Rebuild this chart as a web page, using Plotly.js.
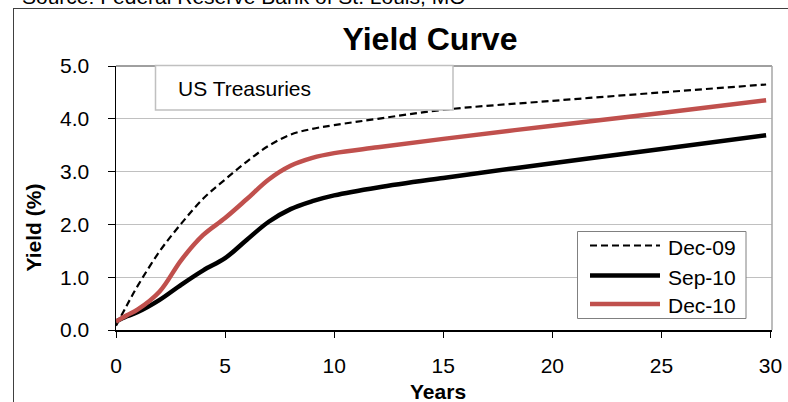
<!DOCTYPE html>
<html>
<head>
<meta charset="utf-8">
<script src="https://cdn.plot.ly/plotly-3.0.1.min.js"></script>
<style>
  html, body { margin: 0; padding: 0; background: #fff; }
  #chart { width: 788px; height: 402px; }
</style>
</head>
<body>
<div id="chart"></div>
<script>
// Treasury yield curves: maturity in years vs. yield in percent
const maturities = [0, 0.5, 1, 2, 3, 4, 5, 6, 7, 8, 9, 10, 12, 15, 20, 25, 29.8];
const yieldsDec09 = [0.08, 0.47, 0.84, 1.49, 2.02, 2.49, 2.85, 3.19, 3.49, 3.70, 3.81, 3.88, 4.00, 4.17, 4.34, 4.50, 4.65];
const yieldsSep10 = [0.16, 0.26, 0.34, 0.57, 0.86, 1.13, 1.36, 1.71, 2.05, 2.29, 2.44, 2.55, 2.70, 2.88, 3.16, 3.43, 3.69];
const yieldsDec10 = [0.16, 0.28, 0.39, 0.73, 1.33, 1.80, 2.12, 2.48, 2.85, 3.11, 3.26, 3.35, 3.46, 3.62, 3.87, 4.11, 4.35];

const seriesNames = ['Dec-09', 'Sep-10', 'Dec-10'];
const yTickVals = [0, 1, 2, 3, 4, 5];
const xTickVals = [0, 5, 10, 15, 20, 25, 30];

const FONT = 'Liberation Sans, Arial, Helvetica, sans-serif';
const RED = '#C0504D';

// plot area geometry (pixels) used to place decorations in paper units
const M = { l: 116, r: 16, t: 66, b: 72 };
const PW = 788 - M.l - M.r;
const PH = 402 - M.t - M.b;
const px = x => (x - M.l) / PW;
const py = y => (402 - M.b - y) / PH;

const styles = [
  { color: '#000', width: 2.2, dash: '7px,4px' },
  { color: '#000', width: 4.5, dash: 'solid' },
  { color: RED, width: 4.5, dash: 'solid' }
];
const seriesY = [yieldsDec09, yieldsSep10, yieldsDec10];

const traces = seriesY.map((ys, i) => ({
  type: 'scatter',
  mode: 'lines',
  name: seriesNames[i],
  x: maturities,
  y: ys,
  line: { color: styles[i].color, width: styles[i].width, dash: styles[i].dash, shape: 'spline', smoothing: 1 },
  hoverinfo: 'x+y+name',
  showlegend: false
}));

const shapes = [
  // outer frame (top and left edges)
  { type: 'line', xref: 'paper', yref: 'paper', x0: px(13), x1: px(800), y0: py(8.5), y1: py(8.5),
    line: { color: '#404040', width: 1 } },
  { type: 'line', xref: 'paper', yref: 'paper', x0: px(13.5), x1: px(13.5), y0: py(8), y1: py(410),
    line: { color: '#404040', width: 1 } },
  // plot area border: top and right
  { type: 'line', xref: 'paper', yref: 'paper', x0: 0, x1: 1, y0: 1, y1: 1,
    line: { color: '#404040', width: 1 } },
  { type: 'line', xref: 'paper', yref: 'paper', x0: 1, x1: 1, y0: 0, y1: 1,
    line: { color: '#a6a6a6', width: 1.5 } },
  // text box for the series group label
  { type: 'rect', xref: 'paper', yref: 'paper', x0: px(155.5), x1: px(453), y0: py(65.5), y1: py(110),
    fillcolor: '#fff', line: { color: '#c0c0c0', width: 1.5 } },
  // legend box
  { type: 'rect', xref: 'paper', yref: 'paper', x0: px(577.5), x1: px(746), y0: py(231.5), y1: py(318.5),
    fillcolor: '#fff', line: { color: '#808080', width: 1 } }
];

const legendRows = [245.5, 275.5, 304];
legendRows.forEach((yy, i) => {
  shapes.push({ type: 'line', xref: 'paper', yref: 'paper', x0: px(590), x1: px(660), y0: py(yy), y1: py(yy),
    line: { color: styles[i].color, width: styles[i].width, dash: styles[i].dash } });
});

const annotations = [
  { text: 'Source: Federal Reserve Bank of St. Louis, MO', xref: 'paper', yref: 'paper',
    x: px(20), y: py(-4), xanchor: 'left', yanchor: 'middle', showarrow: false,
    font: { family: FONT, size: 21, color: '#000' } },
  { text: 'US Treasuries', xref: 'paper', yref: 'paper', x: px(176), y: py(88),
    xanchor: 'left', yanchor: 'middle', showarrow: false,
    font: { family: FONT, size: 21, color: '#000' } },
  { text: '<b>Yield (%)</b>', xref: 'paper', yref: 'paper', x: px(33), y: py(227.5),
    xanchor: 'center', yanchor: 'middle', textangle: -90, showarrow: false,
    font: { family: FONT, size: 21, color: '#000' } },
  { text: '<b>Years</b>', xref: 'paper', yref: 'paper', x: px(438), y: py(391),
    xanchor: 'center', yanchor: 'middle', showarrow: false,
    font: { family: FONT, size: 21, color: '#000' } }
];
legendRows.forEach((yy, i) => {
  annotations.push({ text: seriesNames[i], xref: 'paper', yref: 'paper', x: px(666), y: py(yy + 1.5),
    xanchor: 'left', yanchor: 'middle', showarrow: false,
    font: { family: FONT, size: 21, color: '#000' } });
});

const layout = {
  width: 788,
  height: 402,
  margin: M,
  paper_bgcolor: '#fff',
  plot_bgcolor: '#fff',
  font: { family: FONT, size: 21, color: '#000' },
  title: {
    text: '<b>Yield Curve</b>',
    font: { family: FONT, size: 32, color: '#000' },
    xref: 'container', yref: 'container',
    x: 430 / 788, xanchor: 'center',
    y: 1 - 38.5 / 402, yanchor: 'middle'
  },
  xaxis: {
    range: [0, 30.07],
    tickvals: xTickVals,
    ticks: 'outside', ticklen: 6, tickwidth: 1, tickcolor: '#000',
    ticklabelstandoff: 10,
    showline: true, linecolor: '#000', linewidth: 1.5,
    showgrid: false, zeroline: false,
    tickfont: { family: FONT, size: 21, color: '#000' },
    fixedrange: true
  },
  yaxis: {
    range: [0, 5],
    tickvals: yTickVals,
    tickformat: '.1f',
    ticks: 'outside', ticklen: 7, tickwidth: 1, tickcolor: '#000',
    ticklabelstandoff: 14,
    showline: true, linecolor: '#000', linewidth: 1.5,
    showgrid: true, gridcolor: '#c0c0c0', gridwidth: 1,
    zeroline: false,
    tickfont: { family: FONT, size: 21, color: '#000' },
    fixedrange: true
  },
  shapes: shapes,
  annotations: annotations,
  showlegend: false
};

Plotly.newPlot('chart', traces, layout, { displayModeBar: false, staticPlot: true });
</script>
</body>
</html>
